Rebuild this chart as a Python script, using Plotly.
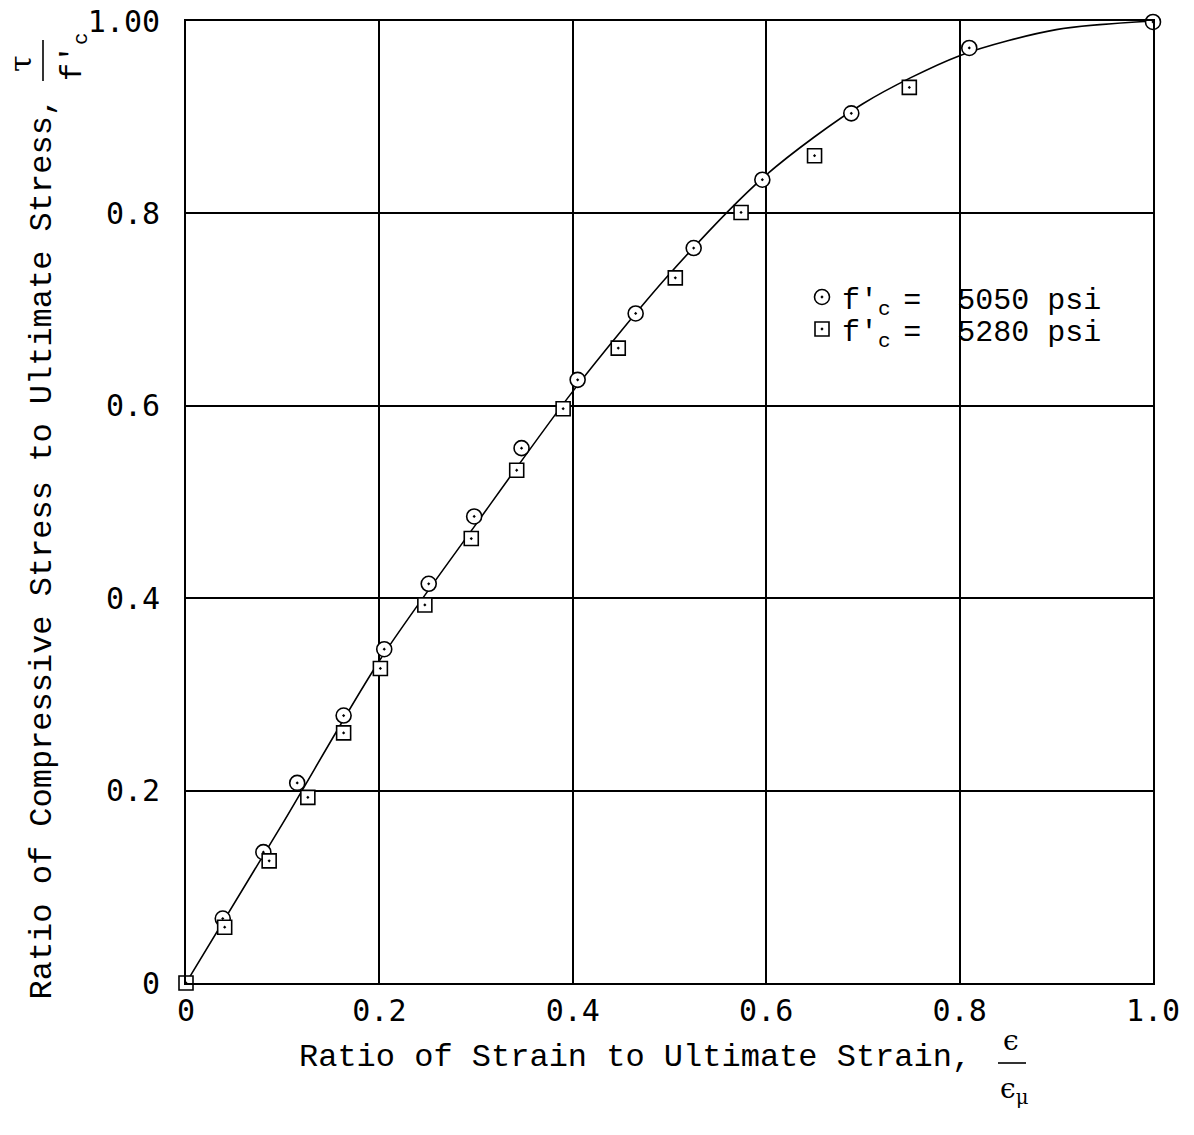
import plotly.graph_objects as go

# ---- data ----
circ_x = [0.038, 0.080, 0.115, 0.163, 0.205, 0.251, 0.298, 0.347, 0.405, 0.465, 0.525, 0.596, 0.688, 0.810, 1.000]
circ_y = [0.067, 0.136, 0.208, 0.278, 0.347, 0.415, 0.485, 0.556, 0.627, 0.696, 0.764, 0.835, 0.904, 0.972, 0.999]

sq_x = [0.000, 0.040, 0.086, 0.126, 0.163, 0.201, 0.247, 0.295, 0.342, 0.390, 0.447, 0.506, 0.574, 0.650, 0.748]
sq_y = [0.000, 0.058, 0.127, 0.193, 0.260, 0.327, 0.393, 0.462, 0.533, 0.597, 0.660, 0.733, 0.801, 0.860, 0.931]

curve_x = [0.0, 0.1, 0.2, 0.3, 0.4, 0.5, 0.6, 0.7, 0.8, 0.9, 1.0]
curve_y = [0.0, 0.166, 0.335, 0.477, 0.615, 0.737, 0.840, 0.914, 0.964, 0.991, 1.0]

x_tickvals = [0, 0.2, 0.4, 0.6, 0.8, 1.0]
x_ticktext = ["0", "0.2", "0.4", "0.6", "0.8", "1.0"]
y_tickvals = [0, 0.2, 0.4, 0.6, 0.8, 1.0]
y_ticktext = ["0", "0.2", "0.4", "0.6", "0.8", "1.00"]

label_5050 = "f'<sub>c\u00a0</sub>=\u00a0\u00a05050 psi"
label_5280 = "f'<sub>c\u00a0</sub>=\u00a0\u00a05280 psi"

TITLE_FONT = dict(family="Liberation Mono", size=32, color="black")
TICK_FONT = dict(family="DejaVu Sans Mono", size=30, color="black")

fig = go.Figure()

fig.add_trace(go.Scatter(
    x=curve_x, y=curve_y, mode="lines", line=dict(color="black", width=1.6, shape="spline", smoothing=0.8),
    showlegend=False, hoverinfo="skip", cliponaxis=False))

fig.add_trace(go.Scatter(
    x=circ_x, y=circ_y, mode="markers", name=label_5050, cliponaxis=False,
    marker=dict(symbol="circle-dot", size=15, color="white", line=dict(color="black", width=1.6)),
    legend="legend"))

fig.add_trace(go.Scatter(
    x=sq_x, y=sq_y, mode="markers", name=label_5280, cliponaxis=False,
    marker=dict(symbol="square-dot", size=14, color="white", line=dict(color="black", width=1.6)),
    legend="legend2"))

axis_common = dict(
    showgrid=True, gridcolor="black", gridwidth=1.5,
    showline=True, linecolor="black", linewidth=1.8, mirror=True,
    zeroline=False, ticks="", tickfont=TICK_FONT, automargin=False,
)

fig.update_xaxes(range=[0, 1.0], tickmode="array", tickvals=x_tickvals, ticktext=x_ticktext, **axis_common)
fig.update_yaxes(range=[0, 1.0], tickmode="array", tickvals=y_tickvals, ticktext=y_ticktext,
                 ticklabelstandoff=18, **axis_common)

def px2x(px):
    return (px - 186) / 967

def py2y(py):
    return (983 - py) / 962

annotations = [
    dict(text="Ratio of Strain to Ultimate Strain,", x=px2x(297), y=py2y(1057), xanchor="left", yanchor="middle",
         font=TITLE_FONT),
    dict(text="ϵ", x=px2x(1011), y=py2y(1040), xanchor="center", yanchor="middle",
         font=dict(family="DejaVu Serif", size=28, color="black")),
    dict(text="ϵ<sub>μ</sub>", x=px2x(1014), y=py2y(1090), xanchor="center", yanchor="middle",
         font=dict(family="DejaVu Serif", size=28, color="black")),
    dict(text="Ratio of Compressive Stress to Ultimate Stress,", x=px2x(42), y=py2y(1002), xanchor="center",
         yanchor="bottom", textangle=-90, font=TITLE_FONT),
    dict(text="τ", x=px2x(20), y=py2y(64), xanchor="center", yanchor="middle", textangle=-90,
         font=dict(family="DejaVu Serif", size=30, color="black")),
    dict(text="f'<sub>c</sub>", x=px2x(74), y=py2y(57), xanchor="center", yanchor="middle", textangle=-90,
         font=dict(family="Liberation Mono", size=30, color="black")),
]
for a in annotations:
    a.update(xref="paper", yref="paper", showarrow=False)

shapes = [
    dict(type="line", xref="paper", yref="paper", x0=px2x(998), x1=px2x(1026), y0=py2y(1063), y1=py2y(1063),
         line=dict(color="black", width=1.6)),
    dict(type="line", xref="paper", yref="paper", x0=px2x(43), x1=px2x(43), y0=py2y(81), y1=py2y(40),
         line=dict(color="black", width=1.6)),
]

legend_common = dict(bgcolor="rgba(0,0,0,0)", borderwidth=0, font=dict(family="Liberation Mono", size=30, color="black"),
                     itemwidth=30, xanchor="left", yanchor="middle", tracegroupgap=0)

fig.update_layout(
    width=1194, height=1135,
    margin=dict(l=186, r=41, t=21, b=152, autoexpand=False),
    paper_bgcolor="white", plot_bgcolor="white",
    annotations=annotations, shapes=shapes,
    legend=dict(x=px2x(802), y=py2y(297), **legend_common),
    legend2=dict(x=px2x(802), y=py2y(329), **legend_common),
)

fig.write_html("out.html")
